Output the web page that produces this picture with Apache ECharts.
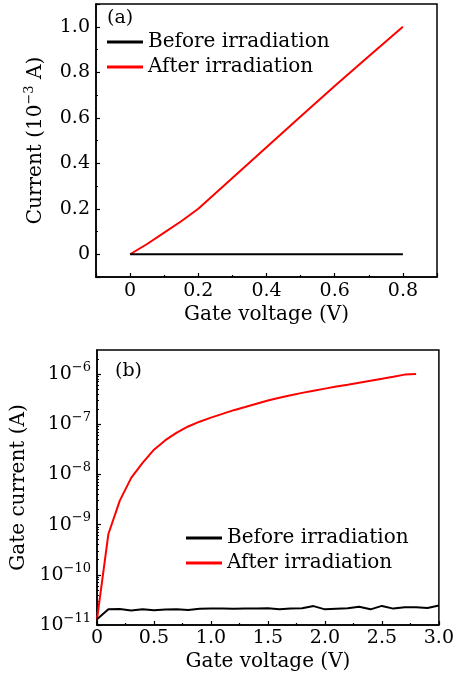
<!DOCTYPE html>
<html>
<head>
<meta charset="utf-8">
<script src="https://cdn.jsdelivr.net/npm/echarts@6/dist/echarts.min.js"></script>
<style>
html,body{margin:0;padding:0;background:#fff;}
#chart{width:457px;height:678px;}
</style>
</head>
<body>
<div id="chart"></div>
<script>
// ---- Panel (a) data ----
const aVoltage = [0, 0.05, 0.1, 0.15, 0.2, 0.3, 0.4, 0.5, 0.6, 0.7, 0.8];
const aBefore  = [0, 0, 0, 0, 0, 0, 0, 0, 0, 0, 0];
const aAfter   = [0, 0.045, 0.095, 0.145, 0.2, 0.335, 0.47, 0.605, 0.74, 0.87, 1.0];

// ---- Panel (b) data ----
const bVoltageBefore = [0, 0.1, 0.2, 0.3, 0.4, 0.5, 0.6, 0.7, 0.8, 0.9, 1.0, 1.1, 1.2, 1.3, 1.4, 1.5, 1.6, 1.7, 1.8, 1.9, 2.0, 2.1, 2.2, 2.3, 2.4, 2.5, 2.6, 2.7, 2.8, 2.9, 3.0];
const bBefore = [1.3e-11, 2.05e-11, 2.08e-11, 1.95e-11, 2.05e-11, 1.96e-11, 2.03e-11, 2.07e-11, 2.0e-11, 2.1e-11, 2.12e-11, 2.12e-11, 2.1e-11, 2.14e-11, 2.14e-11, 2.15e-11, 2.05e-11, 2.12e-11, 2.15e-11, 2.38e-11, 2.05e-11, 2.1e-11, 2.15e-11, 2.3e-11, 2.05e-11, 2.4e-11, 2.12e-11, 2.25e-11, 2.25e-11, 2.18e-11, 2.45e-11];
const bVoltageAfter = [0, 0.1, 0.2, 0.3, 0.4, 0.5, 0.6, 0.7, 0.8, 0.9, 1.0, 1.1, 1.2, 1.3, 1.4, 1.5, 1.6, 1.7, 1.8, 1.9, 2.0, 2.1, 2.2, 2.3, 2.4, 2.5, 2.6, 2.7, 2.8];
const bAfter = [1.3e-11, 6.5e-10, 3.0e-9, 8.5e-9, 1.7e-8, 3.1e-8, 4.8e-8, 6.8e-8, 9.0e-8, 1.12e-7, 1.35e-7, 1.6e-7, 1.9e-7, 2.2e-7, 2.55e-7, 2.95e-7, 3.35e-7, 3.75e-7, 4.2e-7, 4.65e-7, 5.1e-7, 5.6e-7, 6.1e-7, 6.7e-7, 7.3e-7, 8.0e-7, 8.8e-7, 9.7e-7, 1.0e-6];

const seriesNames = ['Before irradiation', 'After irradiation'];
const panelLabels = ['(a)', '(b)'];
const decadeMinorMultipliers = [2, 3, 4, 5, 6, 7, 8, 9];
const logDecades = [-11, -10, -9, -8, -7, -6];

const FONT = 'DejaVu Serif';
const zip = (xs, ys) => xs.map((x, i) => [x, ys[i]]);
const fmtLin = v => (Math.abs(v) < 1e-9 ? '0' : v.toFixed(1));
const logMinor = [];
logDecades.forEach(e => decadeMinorMultipliers.forEach(m => {
  const v = m * Math.pow(10, e);
  if (v < 3e-6) logMinor.push(v);
}));

const axisLineStyle = { show: true, onZero: false, lineStyle: { color: '#000', width: 1.5 } };
const labelStyle = { color: '#000', fontFamily: FONT, fontSize: 19 };
const nameStyle = { color: '#000', fontFamily: FONT, fontSize: 20 };
const supRich = {
  n: { fontFamily: FONT, fontSize: 20, lineHeight: 26, color: '#000' },
  b: { fontFamily: FONT, fontSize: 19, lineHeight: 26, color: '#000' },
  s: { fontFamily: FONT, fontSize: 13, lineHeight: 13, verticalAlign: 'top', color: '#000' }
};
const majorTick = { show: true, inside: true, length: 4, lineStyle: { color: '#000', width: 1.2 } };
const minorTick = { show: true, splitNumber: 2, length: 2, lineStyle: { color: '#000', width: 1.2 } };
const legendBase = {
  data: seriesNames, orient: 'vertical', padding: 0, itemGap: 0, itemWidth: 36, itemHeight: 3, icon: 'rect',
  textStyle: { fontFamily: FONT, fontSize: 20, lineHeight: 25, color: '#000' }
};

const chart = echarts.init(document.getElementById('chart'), null, { renderer: 'canvas' });
chart.setOption({
  backgroundColor: '#fff',
  animation: false,
  title: [
    { text: panelLabels[0], left: 107, top: 9, padding: 0, textStyle: { fontFamily: FONT, fontSize: 19, fontWeight: 'normal', color: '#000' } },
    { text: panelLabels[1], left: 115, top: 362, padding: 0, textStyle: { fontFamily: FONT, fontSize: 19, fontWeight: 'normal', color: '#000' } }
  ],
  legend: [
    Object.assign({ left: 107, top: 29.5 }, legendBase),
    Object.assign({ left: 186, top: 525.5 }, legendBase)
  ],
  grid: [
    { left: 96, right: 20, top: 4, bottom: 401, show: true, borderColor: '#000', borderWidth: 1.5, containLabel: false },
    { left: 97, right: 17, top: 350, bottom: 53, show: true, borderColor: '#000', borderWidth: 1.5, containLabel: false }
  ],
  xAxis: [
    { type: 'value', gridIndex: 0, min: -0.1, max: 0.9, splitNumber: 5,
      name: 'Gate voltage (V)', nameLocation: 'middle', nameGap: 28, nameTextStyle: nameStyle,
      axisLine: axisLineStyle, axisTick: majorTick, minorTick: minorTick,
      splitLine: { show: false }, minorSplitLine: { show: false },
      axisLabel: Object.assign({ margin: 5, showMinLabel: false, showMaxLabel: false, formatter: fmtLin }, labelStyle) },
    { type: 'value', gridIndex: 1, min: 0, max: 3, interval: 0.5,
      name: 'Gate voltage (V)', nameLocation: 'middle', nameGap: 27, nameTextStyle: nameStyle,
      axisLine: axisLineStyle, axisTick: majorTick, minorTick: minorTick,
      splitLine: { show: false }, minorSplitLine: { show: false },
      axisLabel: Object.assign({ margin: 4, formatter: fmtLin }, labelStyle) }
  ],
  yAxis: [
    { type: 'value', gridIndex: 0, min: -0.1, max: 1.1, splitNumber: 6,
      name: '{n|Current (10}{s|−3}{n| A)}', nameLocation: 'middle', nameGap: 47,
      nameTextStyle: { rich: supRich },
      axisLine: axisLineStyle, axisTick: majorTick, minorTick: minorTick,
      splitLine: { show: false }, minorSplitLine: { show: false },
      axisLabel: Object.assign({ margin: 6, showMinLabel: false, showMaxLabel: false, formatter: fmtLin }, labelStyle) },
    { type: 'log', gridIndex: 1, min: 1e-11, max: 3e-6, logBase: 10, position: 'left',
      name: 'Gate current (A)', nameLocation: 'middle', nameGap: 64, nameTextStyle: nameStyle,
      axisLine: axisLineStyle, axisTick: majorTick,
      splitLine: { show: false },
      axisLabel: { margin: 6, showMaxLabel: false, rich: supRich,
        formatter: v => { const e = Math.round(Math.log10(v)); return '{b|10}{s|' + (e < 0 ? '−' : '') + Math.abs(e) + '}'; } } },
    { type: 'log', gridIndex: 1, min: 1e-11, max: 3e-6, logBase: 10, position: 'left',
      axisLine: { show: false, onZero: false }, axisLabel: { show: false }, splitLine: { show: false },
      axisTick: { show: true, inside: true, length: 2, customValues: logMinor, lineStyle: { color: '#000', width: 1 } } }
  ],
  series: [
    { name: seriesNames[0], type: 'line', xAxisIndex: 0, yAxisIndex: 0, symbol: 'none', data: zip(aVoltage, aBefore),
      lineStyle: { color: '#000', width: 2 }, itemStyle: { color: '#000' }, z: 3 },
    { name: seriesNames[1], type: 'line', xAxisIndex: 0, yAxisIndex: 0, symbol: 'none', data: zip(aVoltage, aAfter),
      lineStyle: { color: '#ff0000', width: 2 }, itemStyle: { color: '#ff0000' }, z: 2 },
    { name: seriesNames[0], type: 'line', xAxisIndex: 1, yAxisIndex: 1, symbol: 'none', data: zip(bVoltageBefore, bBefore),
      lineStyle: { color: '#000', width: 2 }, itemStyle: { color: '#000' }, z: 3 },
    { name: seriesNames[1], type: 'line', xAxisIndex: 1, yAxisIndex: 1, symbol: 'none', data: zip(bVoltageAfter, bAfter),
      lineStyle: { color: '#ff0000', width: 2 }, itemStyle: { color: '#ff0000' }, z: 2 }
  ]
});
</script>
</body>
</html>
